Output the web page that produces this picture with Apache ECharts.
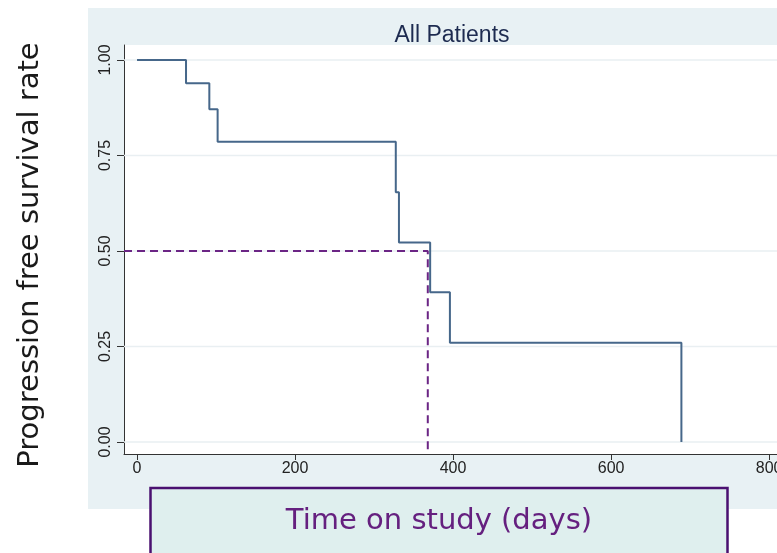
<!DOCTYPE html>
<html>
<head>
<meta charset="utf-8">
<script src="https://cdn.jsdelivr.net/npm/echarts@6/dist/echarts.min.js"></script>
<style>
html,body{margin:0;padding:0;background:#fff;}
#c{width:777px;height:553px;}
</style>
</head>
<body>
<div id="c"></div>
<script>
// Kaplan-Meier step points (day, survival)
var times = [0, 62, 91.5, 102, 327.5, 331.5, 371, 396, 689];
var survival = [1.00, 0.939, 0.871, 0.786, 0.654, 0.522, 0.392, 0.260, 0.00];
var medianDay = 368;
var medianRate = 0.5;
var xTicks = [0, 200, 400, 600, 800];
var yTicks = [0, 0.25, 0.5, 0.75, 1];

var xMin = -16.5, xMax = 810;
var yMin = -0.0314, yMax = 1.0393;

var kmData = times.map(function (t, i) { return [t, survival[i]]; });
var medianData = [[xMin, medianRate], [medianDay, medianRate], [medianDay, yMin]];

var gridSeries = yTicks.map(function (v) {
  return {
    type: 'line', data: [[xMin, v], [xMax, v]], showSymbol: false, symbol: 'none', z: 1, silent: true,
    lineStyle: {color: '#e9eff2', width: 1.5}
  };
});

var chart = echarts.init(document.getElementById('c'), null, {renderer: 'canvas'});
chart.setOption({
  animation: false,
  backgroundColor: '#ffffff',
  title: {
    text: 'All Patients',
    left: 447, top: 19, textAlign: 'center',
    textStyle: {fontFamily: 'Liberation Sans', fontSize: 23, fontWeight: 'normal', color: '#1d2b50'}
  },
  graphic: [
    {type: 'rect', z: -100, shape: {x: 88, y: 8, width: 700, height: 501}, style: {fill: '#e8f1f4'}},
    {type: 'rect', z: 100, shape: {x: 150.5, y: 488, width: 577, height: 80},
     style: {fill: '#dfefee', stroke: '#4a1070', lineWidth: 2.5}},
    {type: 'text', z: 101, x: 439, y: 521,
     style: {text: 'Time on study (days)', fill: '#65207f', font: 'normal 29px "DejaVu Sans"', textAlign: 'center', textVerticalAlign: 'middle'}},
    {type: 'text', z: 101, x: 30, y: 255, rotation: Math.PI / 2,
     style: {text: 'Progression free survival rate', fill: '#1a1a1a', font: 'normal 29px "DejaVu Sans"', textAlign: 'center', textVerticalAlign: 'middle'}}
  ],
  grid: {left: 124, top: 45, right: 0, bottom: 99, show: true, backgroundColor: '#ffffff', borderWidth: 0,
    containLabel: false, outerBoundsMode: 'none'},
  xAxis: {
    type: 'value', min: xMin, max: xMax,
    axisLine: {show: true, onZero: false, lineStyle: {color: '#333', width: 1}},
    axisTick: {show: true, length: 6, customValues: xTicks, lineStyle: {color: '#333'}},
    axisLabel: {customValues: xTicks, fontFamily: 'Liberation Sans', fontSize: 16, color: '#222', margin: 7},
    splitLine: {show: false}
  },
  yAxis: {
    type: 'value', min: yMin, max: yMax,
    axisLine: {show: true, onZero: false, lineStyle: {color: '#333', width: 1}},
    axisTick: {show: true, length: 7, customValues: yTicks, lineStyle: {color: '#333'}},
    axisLabel: {customValues: yTicks, rotate: 90, fontFamily: 'Liberation Sans', fontSize: 16, color: '#222', margin: 10,
      formatter: function (v) { return v.toFixed(2); }},
    splitLine: {show: false}
  },
  series: gridSeries.concat([
    {
      type: 'line', data: kmData, step: 'end', showSymbol: false, symbol: 'none', z: 3,
      lineStyle: {color: '#46678a', width: 2}
    },
    {
      type: 'line', data: medianData, showSymbol: false, symbol: 'none', z: 2,
      lineStyle: {color: '#6b2585', width: 2, type: [8, 5]}
    }
  ])
});
</script>
</body>
</html>
